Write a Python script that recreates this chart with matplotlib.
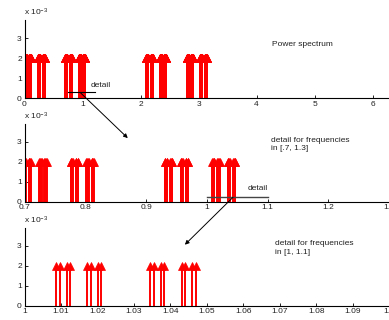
import numpy as np
import matplotlib
matplotlib.use("Agg")
import matplotlib.pyplot as plt
from matplotlib.patches import ConnectionPatch

plt.rcParams['font.family'] = ['Liberation Sans', 'DejaVu Sans']
plt.rcParams['mathtext.fontset'] = 'custom'
plt.rcParams['mathtext.rm'] = 'Liberation Sans'
plt.rcParams['mathtext.it'] = 'Liberation Sans'

# spectral lines: coarse cluster starts and the fine offsets inside each cluster
group_starts = [0.0, 0.0775702, 0.2327106, 0.3102808,
                0.6981317, 0.7757019, 0.9308423, 1.0084125,
                2.0943951, 2.1719653, 2.3271057, 2.4046759,
                2.7925268, 2.8700970, 3.0252374, 3.1028076]
fine_offsets = [0.0002394, 0.0011971, 0.0031124, 0.0040700,
                0.0088583, 0.0098160, 0.0117313, 0.0126889,
                0.0260961, 0.0270538, 0.0289691, 0.0299267,
                0.0347150, 0.0356727, 0.0375880, 0.0385456]
line_power = 0.002

freqs = (np.array(group_starts)[:, None] + np.array(fine_offsets)[None, :]).ravel()
power = np.full(freqs.size, line_power)

panels = [
    dict(xlim=(0, 2 * np.pi), ticks=[0, 1, 2, 3, 4, 5, 6],
         labels=['0', '1', '2', '3', '4', '5', '6']),
    dict(xlim=(0.7, 1.3), ticks=[0.7, 0.8, 0.9, 1.0, 1.1, 1.2, 1.3],
         labels=['0.7', '0.8', '0.9', '1', '1.1', '1.2', '1.3']),
    dict(xlim=(1.0, 1.1), ticks=[1.0, 1.01, 1.02, 1.03, 1.04, 1.05, 1.06, 1.07, 1.08, 1.09, 1.1],
         labels=['1', '1.01', '1.02', '1.03', '1.04', '1.05', '1.06', '1.07', '1.08', '1.09', '1.1']),
]

W, H = 389, 320
fig = plt.figure(figsize=(W / 100, H / 100), dpi=100)
left = 24.5 / W
width = 1.0 - left
bottoms_px = [98.3, 201.7, 305.7]
height = 78.0 / H

txt_col = '#222222'
fs = 6
axes = []
for p, b in zip(panels, bottoms_px):
    ax = fig.add_axes([left, (H - b) / H, width, height])
    ax.vlines(freqs, 0, power, color='red', lw=1.4)
    ax.plot(freqs, power, '^', color='red', ms=6, mec='red', mew=0.5)
    ax.set_xlim(*p['xlim'])
    ax.set_ylim(0, 0.0039)
    ax.set_xticks(p['ticks'])
    ax.set_xticklabels(p['labels'])
    ax.set_yticks([0, 0.001, 0.002, 0.003])
    ax.set_yticklabels(['0', '1', '2', '3'])
    for s in ('top', 'right'):
        ax.spines[s].set_visible(False)
    for s in ('left', 'bottom'):
        ax.spines[s].set_linewidth(0.8)
        ax.spines[s].set_color('black')
    ax.tick_params(direction='in', length=2.5, width=0.6, labelsize=fs,
                   labelcolor=txt_col, pad=2)
    ax.annotate(r'x 10$^{-3}$', xy=(0, 1), xycoords='axes fraction',
                xytext=(-0.5, 5.5), textcoords='offset points',
                ha='left', va='center', fontsize=fs, color=txt_col)
    axes.append(ax)

ax1, ax2, ax3 = axes

# captions
ax1.text(4.267, 0.0027, 'Power spectrum', fontsize=fs, color=txt_col,
         ha='left', va='center')
ax2.text(1.1058, 0.00287, 'detail for frequencies\nin [.7, 1.3]', fontsize=fs,
         color=txt_col, ha='left', va='center', linespacing=1.25)
ax3.text(1.0687, 0.00288, 'detail for frequencies\nin [1, 1.1]', fontsize=fs,
         color=txt_col, ha='left', va='center', linespacing=1.25)

# zoom markers
ax1.plot([0.745, 1.215], [0.0003, 0.0003], color='black', lw=0.8, clip_on=False)
ax1.text(1.147, 0.00063, 'detail', fontsize=fs, color=txt_col, ha='left', va='center')
ax2.plot([1.0, 1.1], [0.00022, 0.00022], color='#444444', lw=1.0, clip_on=False)
ax2.text(1.0667, 0.00064, 'detail', fontsize=fs, color=txt_col, ha='left', va='center')

# arrows linking each detail to the next panel
for xyA, axA, xyB, axB in [((0.957, 0.0003), ax1, (0.870, 0.00318), ax2),
                           ((1.0432, 0.00022), ax2, (1.0440, 0.00305), ax3)]:
    con = ConnectionPatch(xyA=xyA, coordsA=axA.transData, xyB=xyB, coordsB=axB.transData,
                          arrowstyle='-|>', mutation_scale=6, lw=0.7, color='black')
    fig.add_artist(con)

fig.savefig('out.png', dpi=100)
